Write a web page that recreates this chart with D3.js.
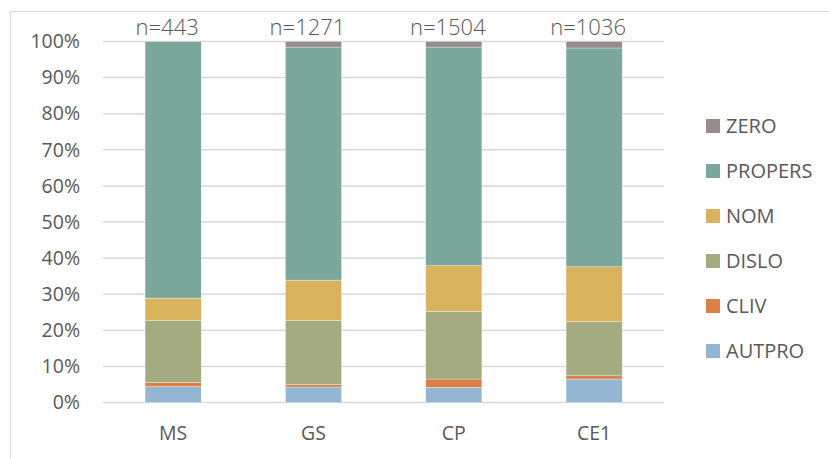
<!DOCTYPE html>
<html>
<head>
<meta charset="utf-8">
<script src="https://cdn.jsdelivr.net/npm/d3@7"></script>
<style>
  html, body { margin: 0; padding: 0; background: #fff; }
  svg { display: block; }
  text { font-family: "Open Sans", sans-serif; fill: #595959; }
</style>
</head>
<body>
<svg id="chart" width="829" height="459"></svg>
<script>
// ---- data (percent of each group) ----
const categories = ["MS", "GS", "CP", "CE1"];
const sampleSizes = ["n=443", "n=1271", "n=1504", "n=1036"];
const seriesNames = ["AUTPRO", "CLIV", "DISLO", "NOM", "PROPERS", "ZERO"];
const AUTPRO  = [4.4, 4.3, 4.2, 6.5];
const CLIV    = [1.1, 0.7, 2.3, 0.9];
const DISLO   = [17.2, 17.7, 18.7, 15.0];
const NOM     = [6.2, 11.2, 12.7, 15.2];
const PROPERS = [71.1, 64.55, 60.55, 60.6];
const ZERO    = [0.0, 1.55, 1.55, 1.8];
const yTicks  = [0, 10, 20, 30, 40, 50, 60, 70, 80, 90, 100];
const colors  = ["#94B6D2", "#DD8047", "#A5AB81", "#D8B25C", "#7BA79D", "#968C8C"];

const seriesValues = { AUTPRO, CLIV, DISLO, NOM, PROPERS, ZERO };
const rows = categories.map((c, i) => {
  const r = { cat: c };
  seriesNames.forEach(s => r[s] = seriesValues[s][i]);
  return r;
});

const svg = d3.select("#chart");

// outer chart border
svg.append("rect")
  .attr("x", 10.5).attr("y", 11.5)
  .attr("width", 830).attr("height", 460)
  .attr("fill", "none").attr("stroke", "#d9d9d9").attr("stroke-width", 1);

const x = d3.scaleBand().domain(categories).range([103, 664.3])
  .paddingInner(0.6).paddingOuter(0.3);
const y = d3.scaleLinear().domain([0, 100]).range([402.5, 41.5]);
const color = d3.scaleOrdinal().domain(seriesNames).range(colors);

// gridlines
svg.append("g").selectAll("line").data(yTicks).join("line")
  .attr("x1", 103).attr("x2", 664.3)
  .attr("y1", d => y(d)).attr("y2", d => y(d))
  .attr("stroke", "#d9d9d9").attr("stroke-width", 1.5);

// y axis labels
const yAxis = d3.axisLeft(y).tickValues(yTicks).tickFormat(d => d + "%").tickSize(0).tickPadding(0);
const gy = svg.append("g").attr("transform", "translate(80,0)").call(yAxis);
gy.select(".domain").remove();
gy.selectAll("text").attr("font-size", 19.5).attr("font-family", "Open Sans").attr("fill", "#595959");

// stacked bars
const stack = d3.stack().keys(seriesNames);
const stacked = stack(rows);
svg.append("g").selectAll("g").data(stacked).join("g")
  .attr("fill", d => color(d.key))
  .selectAll("rect").data(d => d).join("rect")
  .attr("x", d => x(d.data.cat))
  .attr("width", x.bandwidth())
  .attr("y", d => y(d[1]))
  .attr("height", d => Math.max(0, y(d[0]) - y(d[1])))
  .attr("stroke", "#ffffff").attr("stroke-width", 0.5).attr("stroke-opacity", 0.6);

// x axis labels
const xAxis = d3.axisBottom(x).tickSize(0).tickPadding(0);
const gx = svg.append("g").attr("transform", "translate(0,426)").call(xAxis);
gx.select(".domain").remove();
gx.selectAll("text").attr("font-size", 19.5).attr("font-family", "Open Sans").attr("fill", "#595959");

// sample size labels
svg.append("g").selectAll("text").data(categories).join("text")
  .attr("x", (d, i) => x(d) + x.bandwidth() / 2 - 6)
  .attr("y", 35)
  .attr("text-anchor", "middle")
  .attr("font-size", 22)
  .attr("font-weight", 300)
  .text((d, i) => sampleSizes[i]);

// legend (top to bottom: ZERO ... AUTPRO)
const legendOrder = seriesNames.slice().reverse();
const lg = svg.append("g").selectAll("g").data(legendOrder).join("g")
  .attr("transform", (d, i) => `translate(706,${126 + i * 45})`);
lg.append("rect").attr("x", 0).attr("y", -7).attr("width", 14).attr("height", 14)
  .attr("fill", d => color(d));
lg.append("text").attr("x", 20).attr("y", 0).attr("dy", "0.36em")
  .attr("font-size", 20).text(d => d);
</script>
</body>
</html>
